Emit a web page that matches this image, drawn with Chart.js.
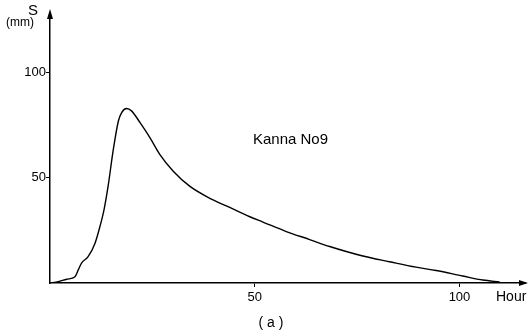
<!DOCTYPE html>
<html>
<head>
<meta charset="utf-8">
<script src="https://cdn.jsdelivr.net/npm/chart.js@4"></script>
<style>
    html, body { margin: 0; padding: 0; background: #fff; }
    #wrap { width: 529px; height: 336px; position: relative; }
</style>
</head>
<body>
<div id="wrap"><canvas id="chartKanna"></canvas></div>
<script>
// curva (horas x S em mm)
const horas = [0, 2, 4.1, 6.1, 6.9, 7.7, 9.3, 11, 12.2, 13.2, 14.2, 15.4, 16.7, 17.5, 18.7, 19.9, 22, 24.4, 26.8, 30.1, 34.1, 38.6, 43.9, 48.8, 52, 57.7, 63.4, 68.3, 76.4, 82.9, 89.4, 94.3, 100.8, 105.7, 109.8];
const valoresS = [0, 0.6, 1.8, 3, 6.2, 9.4, 12.5, 18.9, 26.8, 34.8, 46, 62.5, 76.8, 80.8, 82.7, 81.6, 76, 68.9, 61, 53, 45.9, 40.6, 35.8, 31.4, 28.9, 24.4, 20.6, 17.3, 12.8, 10.1, 7.5, 5.9, 3.3, 1.4, 0.5];
const ticksX = [50, 100];
const ticksY = [50, 100];

const fonte = '"Liberation Sans", Arial, sans-serif';

const eixosPlugin = {
    id: 'eixos',
    afterDraw(chart) {
        const ctx = chart.ctx;
        const area = chart.chartArea;
        ctx.save();
        ctx.fillStyle = '#000';
        ctx.strokeStyle = '#000';
        // setas
        ctx.beginPath();
        ctx.moveTo(area.left, area.top - 4);
        ctx.lineTo(area.left - 3, area.top + 6);
        ctx.lineTo(area.left + 3, area.top + 6);
        ctx.closePath();
        ctx.fill();
        ctx.beginPath();
        ctx.moveTo(area.right + 3, area.bottom);
        ctx.lineTo(area.right - 6, area.bottom - 3);
        ctx.lineTo(area.right - 6, area.bottom + 3);
        ctx.closePath();
        ctx.fill();
        // textos
        ctx.textBaseline = 'middle';
        ctx.textAlign = 'left';
        ctx.font = '15px ' + fonte;
        ctx.fillText('S', 28, 11);
        ctx.font = '12px ' + fonte;
        ctx.fillText('(mm)', 6, 23);
        ctx.font = '14px ' + fonte;
        ctx.fillText('Hour', 496, 297);
        ctx.font = '15px ' + fonte;
        ctx.fillText('Kanna No9', 253, 140);
        ctx.font = '14px ' + fonte;
        ctx.textAlign = 'center';
        ctx.fillText('( a )', 271, 323);
        ctx.restore();
    }
};

const ctx = document.getElementById('chartKanna').getContext('2d');
const chartKanna = new Chart(ctx, {
    type: 'line',
    data: {
        labels: horas,
        datasets: [{
            data: horas.map((h, i) => ({ x: h, y: valoresS[i] })),
            borderColor: '#000',
            borderWidth: 1.4,
            pointRadius: 0,
            cubicInterpolationMode: 'monotone',
            fill: false
        }]
    },
    options: {
        responsive: true,
        maintainAspectRatio: false,
        animation: false,
        layout: { padding: { top: 13, right: 4 } },
        plugins: { legend: { display: false }, tooltip: { enabled: false } },
        scales: {
            x: {
                type: 'linear',
                min: 0,
                max: 116,
                afterBuildTicks: (axis) => { axis.ticks = ticksX.map(v => ({ value: v })); },
                afterFit: (axis) => { axis.height = 53; },
                grid: { drawOnChartArea: false, drawTicks: true, tickLength: 4, color: '#000' },
                border: { display: true, color: '#000', width: 1.5 },
                ticks: { color: '#000', font: { family: fonte, size: 13 }, padding: 3, maxRotation: 0 }
            },
            y: {
                min: 0,
                max: 128,
                afterBuildTicks: (axis) => { axis.ticks = ticksY.map(v => ({ value: v })); },
                afterFit: (axis) => { axis.width = 50; },
                grid: { drawOnChartArea: false, drawTicks: true, tickLength: 4, color: '#000' },
                border: { display: true, color: '#000', width: 1.5 },
                ticks: { color: '#000', font: { family: fonte, size: 13 }, padding: 0 }
            }
        }
    },
    plugins: [eixosPlugin]
});
</script>
</body>
</html>
